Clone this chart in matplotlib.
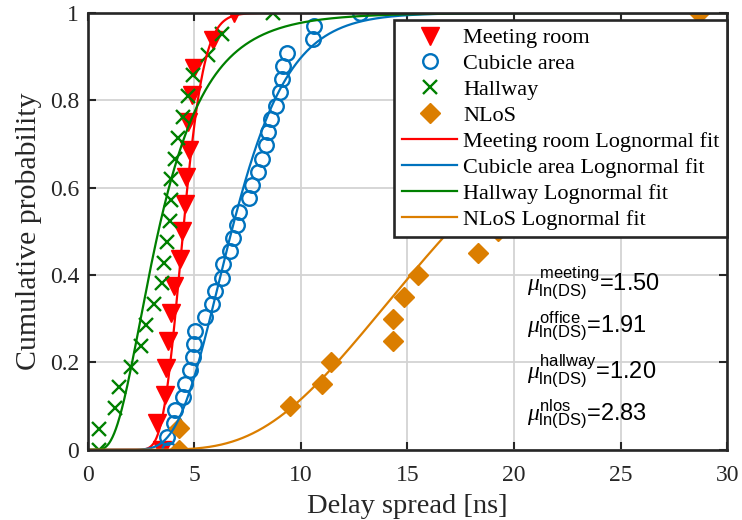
import math
import numpy as np
import matplotlib
matplotlib.use('Agg')
import matplotlib.pyplot as plt

#---- Data -------------------------------------------------------------------#

# Empirical CDF points: delay spread [ns] and cumulative probability
meeting_ds = [3.48, 3.28, 3.63, 3.68, 3.76, 3.91, 4.07, 4.34, 4.41, 4.57, 4.62,
              4.77, 4.73, 4.88, 5.01, 5.87, 6.87]
meeting_p = [0, 0.0625, 0.125, 0.1875, 0.25, 0.3125, 0.375, 0.4375, 0.5,
             0.5625, 0.625, 0.6875, 0.75, 0.8125, 0.875, 0.9375, 1.0]

cubicle_ds = [3.84, 3.71, 4.05, 4.12, 4.49, 4.57, 4.80, 4.96, 5.00, 5.04, 5.51,
              5.82, 5.98, 6.29, 6.37, 6.66, 6.84, 7.02, 7.12, 7.57, 7.73, 8.01,
              8.17, 8.37, 8.48, 8.59, 8.84, 9.02, 9.10, 9.15, 9.37, 10.56,
              10.62, 12.77]
cubicle_p = [i / 33 for i in range(34)]

hallway_ds = [0.54, 0.54, 1.29, 1.49, 2.04, 2.51, 2.74, 3.13, 3.48, 3.59, 3.71,
              3.87, 3.91, 3.91, 4.10, 4.23, 4.49, 4.70, 4.96, 5.66, 6.29, 8.68]
hallway_p = [i / 21 for i in range(22)]

nlos_ds = [4.3, 4.3, 9.49, 10.98, 11.42, 14.31, 14.31, 14.85, 15.51, 18.32,
           19.26, 19.8, 20.5, 21.3, 22.0, 22.9, 23.8, 24.9, 26.0, 27.3, 28.67]
nlos_p = [i / 20 for i in range(21)]

# Lognormal fit parameters of ln(DS)
mu_meeting, sigma_meeting = 1.50, 0.17
mu_office, sigma_office = 1.91, 0.31
mu_hallway, sigma_hallway = 1.20, 0.55
mu_nlos, sigma_nlos = 2.83, 0.44

#---- Style ------------------------------------------------------------------#

plt.rcParams['font.family'] = ['Liberation Serif', 'DejaVu Serif']
plt.rcParams['mathtext.fontset'] = 'custom'
plt.rcParams['mathtext.rm'] = 'Liberation Sans'
plt.rcParams['mathtext.it'] = 'Liberation Serif:italic'

c_red = '#FF0000'
c_blue = '#0072BD'
c_green = '#008000'
c_orange = '#DB7E00'


def logn_cdf(x, mu, sigma):
    z = (np.log(x) - mu) / (sigma * math.sqrt(2))
    return 0.5 * (1 + np.vectorize(math.erf)(z))


#---- Plotting ---------------------------------------------------------------#

fig = plt.figure(figsize=(7.42, 5.2), dpi=100)
ax = fig.add_axes([0.118, 0.135, 0.862, 0.84])

ax.plot(meeting_ds, meeting_p, 'v', color=c_red, ms=12.5, label='Meeting room')
ax.plot(cubicle_ds, cubicle_p, 'o', color=c_blue, mfc='none', mew=1.7,
        ms=10.5, label='Cubicle area')
ax.plot(hallway_ds, hallway_p, 'x', color=c_green, mew=1.7, ms=10,
        label='Hallway')
ax.plot(nlos_ds, nlos_p, 'D', color=c_orange, ms=10, label='NLoS')

xs = np.linspace(0.01, 30, 1500)
ax.plot(xs, logn_cdf(xs, mu_meeting, sigma_meeting), color=c_red, lw=1.6,
        label='Meeting room Lognormal fit')
ax.plot(xs, logn_cdf(xs, mu_office, sigma_office), color=c_blue, lw=1.6,
        label='Cubicle area Lognormal fit')
ax.plot(xs, logn_cdf(xs, mu_hallway, sigma_hallway), color=c_green, lw=1.6,
        label='Hallway Lognormal fit')
ax.plot(xs, logn_cdf(xs, mu_nlos, sigma_nlos), color=c_orange, lw=1.6,
        label='NLoS Lognormal fit')

ax.set_xlim(0, 30)
ax.set_ylim(0, 1)
ax.set_xticks([0, 5, 10, 15, 20, 25, 30])
ax.set_yticks([0, 0.2, 0.4, 0.6, 0.8, 1])
ax.set_yticklabels(['0', '0.2', '0.4', '0.6', '0.8', '1'])
ax.tick_params(direction='in', length=6, width=1.5, top=True, right=True,
               labelsize=17, colors='#262626')
ax.tick_params(axis='x', pad=11)
ax.tick_params(axis='y', pad=6)
ax.grid(True, color='#d3d3d3', lw=1.3)
ax.set_axisbelow(True)
for s in ax.spines.values():
    s.set_linewidth(1.9)
    s.set_color('#262626')

ax.set_xlabel('Delay spread [ns]', fontsize=20.5, color='#262626', labelpad=6)
ax.set_ylabel('Cumulative probability', fontsize=21.5, color='#262626',
              labelpad=6)

leg = ax.legend(loc='upper right', bbox_to_anchor=(1.0, 0.984),
                borderaxespad=0, fontsize=16, numpoints=1, handlelength=2.5,
                handletextpad=0.25, labelspacing=0.24, borderpad=0.35,
                fancybox=False, framealpha=1, edgecolor='#262626')
leg.get_frame().set_linewidth(1.9)

# Fitted mean of ln(DS) per scenario
mu_labels = [('meeting', mu_meeting), ('office', mu_office),
             ('hallway', mu_hallway), ('nlos', mu_nlos)]
for i, (name, mu) in enumerate(mu_labels):
    ax.text(20.6, 0.382 - i * 0.1,
            r'$\mu^{\rm %s}_{\rm ln(DS)}$=%.2f' % (name, mu),
            fontsize=17, family='Liberation Sans', va='center', ha='left')

plt.savefig('out.png', dpi=100)
